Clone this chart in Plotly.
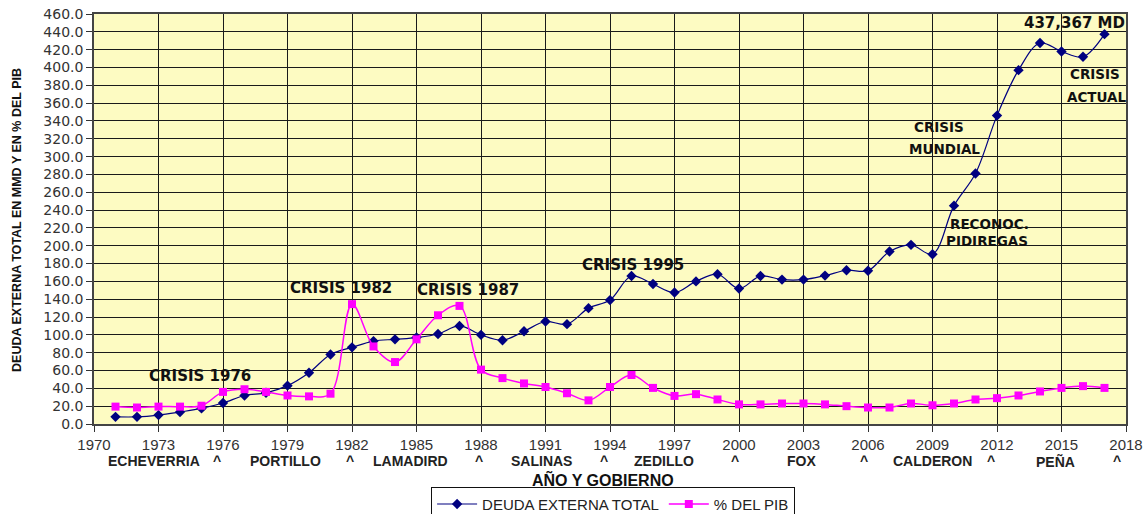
import plotly.graph_objects as go

years = list(range(1971, 2018))
deuda_total = [8, 8, 10, 13.5, 17.5, 23.5, 32, 35, 43, 57.5, 78, 86, 93, 95, 97, 101, 110,
               100, 94, 104, 115, 112, 130, 139, 166, 157, 147.5, 160, 168, 152, 166,
               162, 162, 166.5, 172.5, 172, 193.5, 201, 190.5, 245, 281, 346, 397, 427.5,
               418, 412, 437.4]
pct_pib = [19.5, 18.5, 19.5, 19.5, 20.5, 36, 39, 36, 32, 31, 34, 134.5, 87, 69.5, 95, 122,
           132.5, 61, 51.5, 45.5, 41.5, 34.5, 26.5, 41.5, 55, 40.5, 31.5, 33.5, 27.5, 22,
           22, 23, 23, 22, 20, 18.5, 18.5, 23, 21, 23, 27.5, 29, 32, 36.5, 40.5, 42.5, 40.5]

x_ticks = list(range(1970, 2019, 3))
gov_labels = ["^", "ECHEVERRIA", "^", "PORTILLO", "^", "LAMADIRD", "^", "SALINAS", "^",
              "ZEDILLO", "^", "FOX", "^", "CALDERON", "^", "PEÑA", "^"]
gov_label_x = [1969.5, 1972.8, 1975.7, 1978.9, 1981.9, 1984.7, 1987.9, 1990.8, 1993.7,
               1996.5, 1999.8, 2002.9, 2005.8, 2009.0, 2011.7, 2014.7, 2017.6]

notes = [
    ("CRISIS 1976", 1974.93, 54.1, 15),
    ("CRISIS 1982", 1981.49, 152.3, 15),
    ("CRISIS 1987", 1987.4, 150.0, 15),
    ("CRISIS 1995", 1995.07, 178.0, 15),
    ("437,367 MD", 2015.6, 450.0, 15),
    ("CRISIS", 2016.56, 392.5, 13.5),
    ("ACTUAL", 2016.65, 367.0, 13.5),
    ("CRISIS", 2009.3, 333.0, 13.5),
    ("MUNDIAL", 2009.58, 308.3, 13.5),
    ("RECONOC.", 2011.67, 224.0, 13.5),
    ("PIDIREGAS", 2011.53, 205.4, 13.5),
]

fig = go.Figure()
fig.add_trace(go.Scatter(
    x=years, y=deuda_total, name="DEUDA EXTERNA TOTAL", mode="lines+markers",
    line=dict(color="#000080", width=1.2, shape="spline"),
    marker=dict(symbol="diamond", size=8, color="#000080"),
))
fig.add_trace(go.Scatter(
    x=years, y=pct_pib, name="% DEL PIB", mode="lines+markers",
    line=dict(color="#FF00FF", width=1.5, shape="spline"),
    marker=dict(symbol="square", size=8, color="#FF00FF"),
))

annotations = []
for txt, ax, ay, fs in notes:
    annotations.append(dict(
        x=ax, y=ay, xref="x", yref="y", text=txt, showarrow=False,
        font=dict(family="DejaVu Sans", size=fs, color="#111111", weight="bold"),
        xanchor="center", yanchor="middle",
    ))
for lab, lx in zip(gov_labels, gov_label_x):
    annotations.append(dict(
        x=lx, y=0, xref="x", yref="paper", text=lab, showarrow=False,
        font=dict(family="Arial", size=14, color="#222222", weight="bold"),
        xanchor="center", yanchor="middle", yshift=-37,
    ))
annotations.append(dict(
    x=0.5, y=0, xref="paper", yref="paper", text="AÑO Y GOBIERNO", showarrow=False,
    font=dict(family="Arial", size=16, color="#111111", weight="bold"),
    xanchor="center", yanchor="middle", yshift=-55, xshift=-7,
))
annotations.append(dict(
    x=0, y=0.4976, xref="paper", yref="paper",
    text="DEUDA EXTERNA TOTAL EN MMD Y EN % DEL PIB", showarrow=False, textangle=-90,
    font=dict(family="Arial", size=12.5, color="#111111", weight="bold"),
    xanchor="center", yanchor="middle", xshift=-77,
))

fig.update_layout(
    width=1146, height=514,
    margin=dict(l=94, r=20, t=14, b=90, autoexpand=False),
    paper_bgcolor="white",
    plot_bgcolor="#FDFBC2",
    showlegend=True,
    legend=dict(
        orientation="h", x=0.503, xanchor="center", y=-0.153, yanchor="top",
        bgcolor="white", bordercolor="#111111", borderwidth=1,
        font=dict(family="Arial", size=15, color="#222222"),
        itemwidth=40, tracegroupgap=0,
    ),
    annotations=annotations,
)
fig.update_xaxes(
    range=[1970, 2018], tickmode="array", tickvals=x_ticks,
    ticktext=[str(v) for v in x_ticks],
    showgrid=True, gridcolor="#1a1a1a", gridwidth=1.3,
    ticks="outside", ticklen=6, tickcolor="#333333",
    showline=True, mirror=True, linecolor="#444444", linewidth=1.5,
    tickfont=dict(family="Arial", size=15, color="#333333"),
    zeroline=False,
)
fig.update_yaxes(
    range=[0, 460], dtick=20, tick0=0, tickformat=".1f",
    showgrid=True, gridcolor="#1a1a1a", gridwidth=1.3,
    ticks="outside", ticklen=6, tickcolor="#333333",
    showline=True, mirror=True, linecolor="#444444", linewidth=1.5,
    tickfont=dict(family="DejaVu Sans", size=14, color="#333333"),
    zeroline=False,
)

fig.write_html("out.html", config={"displayModeBar": False},
               post_script="document.body.style.margin='0';document.body.style.overflow='hidden';")
